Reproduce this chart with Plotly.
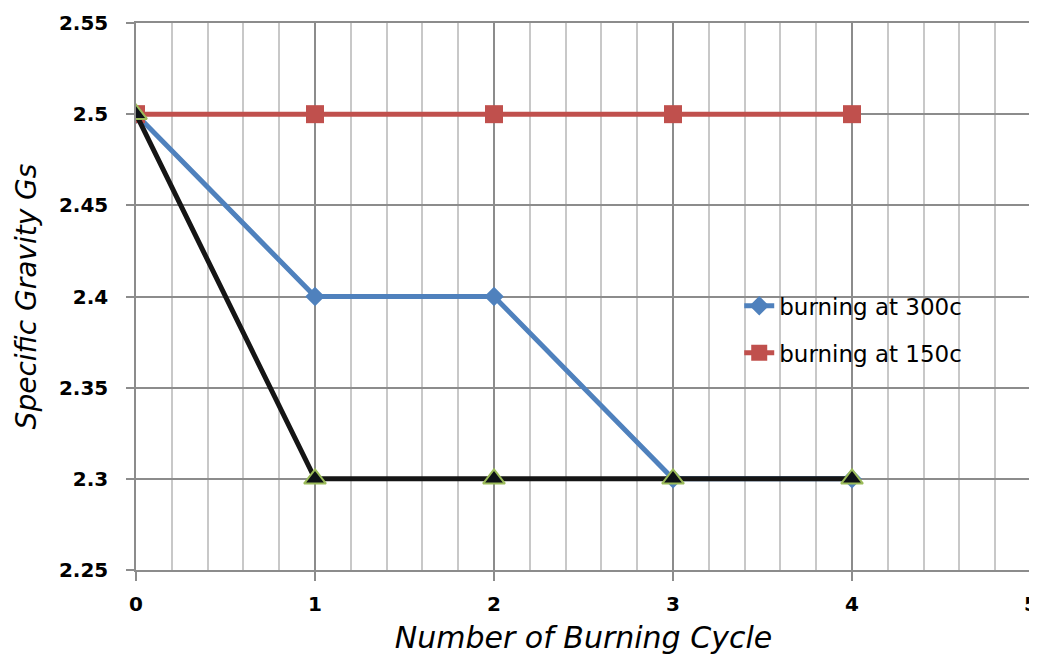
import plotly.graph_objects as go

cycles = [0, 1, 2, 3, 4]
gs_300c = [2.5, 2.4, 2.4, 2.3, 2.3]
gs_150c = [2.5, 2.5, 2.5, 2.5, 2.5]
gs_third = [2.5, 2.3, 2.3, 2.3, 2.3]
x_ticks = [0, 1, 2, 3, 4, 5]
y_ticks = [2.25, 2.3, 2.35, 2.4, 2.45, 2.5, 2.55]

FONT = "DejaVu Sans"
GRID = "#8c8c8c"

fig = go.Figure()
fig.add_trace(go.Scatter(x=cycles, y=gs_300c, mode="lines+markers", name="burning at 300c",
                         legendgroup="a",
                         line=dict(color="#4f81bd", width=5),
                         marker=dict(symbol="diamond", size=15, color="#4f81bd")))
fig.add_trace(go.Scatter(x=cycles, y=gs_150c, mode="lines+markers", name="burning at 150c",
                         legendgroup="b",
                         line=dict(color="#c0504d", width=5),
                         marker=dict(symbol="square", size=18, color="#c0504d")))
fig.add_trace(go.Scatter(x=cycles, y=gs_third, mode="lines+markers", name="",
                         showlegend=False, legendgroup="c",
                         line=dict(color="#151515", width=5),
                         marker=dict(symbol="triangle-up", size=19, color="#0d1117",
                                     line=dict(color="#9bbb59", width=2))))

# page body has an 8px margin, so the figure is offset by 8px
fig.update_layout(
    width=1029, height=653,
    margin=dict(l=128, r=6, t=15, b=91, autoexpand=False),
    paper_bgcolor="white", plot_bgcolor="white",
    font=dict(family=FONT, color="black"),
    showlegend=True,
    legend=dict(x=0.674, y=0.44, xanchor="left", yanchor="middle",
                bgcolor="rgba(255,255,255,0)", font=dict(size=23, family=FONT),
                traceorder="grouped", tracegroupgap=14),
)
fig.update_xaxes(range=[0, 5], tickmode="array", tickvals=x_ticks,
                 ticktext=[str(v) for v in x_ticks], automargin=False,
                 showgrid=True, gridcolor=GRID, gridwidth=1.5,
                 minor=dict(dtick=0.2, tick0=0, showgrid=True, gridcolor="#c8c8c8", gridwidth=1.5),
                 ticks="outside", ticklen=9, tickcolor=GRID, tickwidth=1.5,
                 zeroline=False, showline=True, mirror=True, linecolor=GRID, linewidth=1.5,
                 ticklabeloverflow="allow", ticklabelstandoff=6,
                 tickfont=dict(size=20, family=FONT, weight="bold"),
                 title=dict(text="<i>Number of Burning Cycle</i>", font=dict(size=30, family=FONT),
                            standoff=12))
fig.update_yaxes(range=[2.25, 2.55], tickmode="array", tickvals=y_ticks,
                 ticktext=[f"{v:g}" for v in y_ticks], automargin=False,
                 showgrid=True, gridcolor=GRID, gridwidth=1.5,
                 ticks="outside", ticklen=8, tickcolor=GRID, tickwidth=1.5,
                 zeroline=False, showline=True, mirror=True, linecolor=GRID, linewidth=1.5,
                 ticklabelstandoff=14,
                 tickfont=dict(size=20, family=FONT, weight="bold"),
                 title=dict(text="<i>Specific Gravity Gs</i>", font=dict(size=28, family=FONT),
                            standoff=14))

fig.write_html("out.html")
